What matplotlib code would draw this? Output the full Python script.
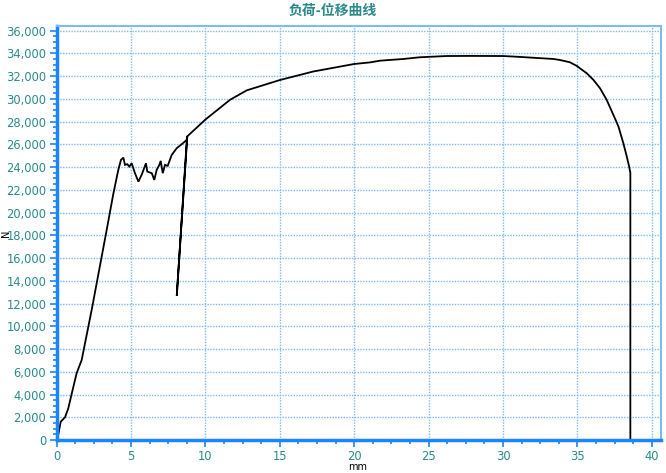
import matplotlib
matplotlib.use("Agg")
import matplotlib.pyplot as plt
from matplotlib.ticker import MultipleLocator, FuncFormatter

# displacement (mm) and load (N)
disp = [0.0, 0.1, 0.27, 0.56, 0.78, 1.0, 1.34, 1.68, 2.35, 3.36, 3.8, 4.14, 4.32, 4.48,
        4.59, 4.75, 4.88, 5.04, 5.26, 5.49, 5.71, 6.0, 6.09, 6.39, 6.56, 6.72, 6.9,
        6.99, 7.13, 7.28, 7.46, 7.73, 8.07, 8.4, 8.74, 8.76, 8.07, 8.78,
        10.0, 11.65, 12.77, 15.0, 17.25, 20.0, 21.06, 21.73, 23.3, 24.4, 26.2,
        27.8, 30.0, 30.9, 33.4, 33.83, 34.5, 34.96, 35.63, 36.08, 36.52, 36.97,
        37.42, 37.76, 38.09, 38.32, 38.48, 38.54, 38.56, 38.56]
load = [300, 440, 1610, 2000, 2790, 4020, 5870, 7040, 11430, 18470, 21600, 23750, 24630, 24830,
        24190, 24250, 24040, 24330, 23460, 22720, 23310, 24330, 23600, 23460, 22870, 23750, 24190,
        24540, 23460, 24190, 24100, 25060, 25660, 26000, 26390, 26670, 12690, 26700,
        28180, 29910, 30740, 31650, 32400, 33060, 33200, 33350, 33500, 33650, 33760,
        33770, 33760, 33700, 33500, 33410, 33210, 32890, 32240, 31660, 30930, 29900,
        28580, 27560, 26090, 24920, 24040, 23600, 23500, 0]

title = "负荷-位移曲线"
xlabel = "mm"
ylabel = "N"

plt.rcParams['font.family'] = ['Noto Sans CJK SC', 'DejaVu Sans']

teal = "#2A8A8A"
blue = "#1A85FF"
grid_c = "#7DBBF5"

fig = plt.figure(figsize=(6.66, 4.73), dpi=100)
ax = fig.add_axes([56.7/666, 1-440/473, (660.7-56.7)/666, (440-26)/473])

ax.plot(disp, load, color="black", lw=1.3, solid_joinstyle="miter")

ax.set_xlim(0, 40.6)
ax.set_ylim(0, 36400)
ax.xaxis.set_major_locator(MultipleLocator(5))
ax.xaxis.set_minor_locator(MultipleLocator(1.25))
ax.yaxis.set_major_locator(MultipleLocator(2000))
ax.yaxis.set_minor_locator(MultipleLocator(500))
ax.yaxis.set_major_formatter(FuncFormatter(lambda v, p: f"{int(v):,}"))

ax.grid(True, which="major", color=grid_c, linestyle=(0, (1, 1)), linewidth=1.0)
ax.set_axisbelow(True)

for s in ["left", "bottom"]:
    ax.spines[s].set_color(blue)
    ax.spines[s].set_linewidth(2.5)
for s in ["top", "right"]:
    ax.spines[s].set_color(grid_c)
    ax.spines[s].set_linestyle((0, (1, 1)))
    ax.spines[s].set_linewidth(1.5)

ax.tick_params(axis="both", which="major", direction="out", length=5, width=1.2,
               color=blue, labelcolor=teal, labelsize=8.3, pad=2.5)
ax.tick_params(axis="both", which="minor", direction="out", length=3, width=1.2, color=blue,
               labelleft=False, labelbottom=False)
for lab in ax.get_xticklabels() + ax.get_yticklabels():
    lab.set_family(['DejaVu Sans'])

fig.text(0.5, 1-11/473, title, ha="center", va="center", color=teal, fontsize=10, fontweight="bold")
fig.text(358/666, 1-467/473, xlabel, ha="center", va="center", color="black", fontsize=7,
         family=['DejaVu Sans'])
fig.text(6/666, 1-233/473, ylabel, ha="center", va="center", color="black", fontsize=7,
         family=['DejaVu Sans'], rotation=90)

fig.savefig("out.png", dpi=100)
